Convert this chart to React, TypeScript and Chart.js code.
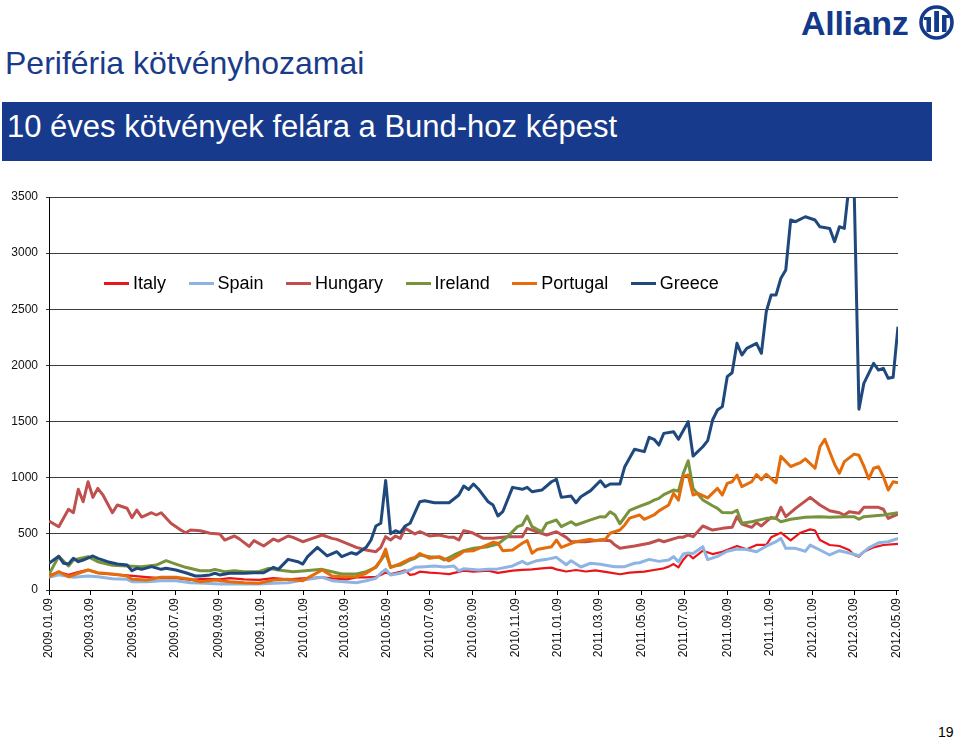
import React, { useEffect, useRef } from "react";
import { Chart, registerables } from "chart.js";

Chart.register(...registerables);

// Tick labels on the date axis (every two months)
const tickLabels = [
  "2009.01.09", "2009.03.09", "2009.05.09", "2009.07.09", "2009.09.09", "2009.11.09",
  "2010.01.09", "2010.03.09", "2010.05.09", "2010.07.09", "2010.09.09", "2010.11.09",
  "2011.01.09", "2011.03.09", "2011.05.09", "2011.07.09", "2011.09.09", "2011.11.09",
  "2012.01.09", "2012.03.09", "2012.05.09",
];

// Series: [week since 2009.01.09, spread in bp]
const italy: [number, number][] = [
  [0,130],[2,160],[4,135],[6,160],[8,180],[10,150],[13,140],[16,130],[20,115],[23,105],[26,105],[29,90],[32,100],[35,95],[37,105],[40,95],[43,90],[46,105],[49,95],[52,104],[56,113],[58,104],[61,95],[63,113],[65,113],[67,118],[68,134],[69,155],[70,142],[72,163],[73,175],[74,134],[75,142],[76,163],[78,154],[80,149],[82,142],[85,172],[87,163],[90,172],[92,152],[95,172],[97,180],[99,184],[101,193],[103,199],[104,184],[106,165],[108,178],[110,165],[112,175],[115,154],[117,140],[119,154],[122,163],[124,178],[126,193],[127,208],[128,231],[129,202],[130,270],[131,321],[132,282],[134,350],[136,320],[138,341],[141,392],[143,362],[145,401],[147,401],[148,469],[150,510],[152,442],[154,510],[156,540],[157,530],[158,445],[160,401],[162,392],[164,356],[165,312],[166,297],[167,341],[169,380],[171,401],[174,410],
];
const spain: [number, number][] = [
  [0,112],[2,135],[5,113],[8,125],[10,118],[13,100],[16,95],[17,74],[20,74],[23,83],[26,83],[29,65],[32,60],[35,53],[39,53],[43,53],[46,60],[49,65],[52,89],[56,113],[58,83],[63,65],[65,83],[67,104],[68,149],[69,184],[70,134],[72,149],[74,178],[75,202],[77,208],[79,214],[81,205],[83,214],[84,170],[85,190],[88,178],[90,184],[92,188],[95,214],[97,255],[98,231],[100,261],[102,273],[104,291],[106,225],[107,261],[109,205],[111,238],[113,230],[115,214],[116,208],[118,208],[120,238],[121,243],[123,273],[125,255],[127,267],[128,297],[129,252],[130,320],[131,330],[132,325],[134,386],[135,270],[137,300],[139,345],[141,365],[143,360],[145,340],[147,390],[149,430],[150,460],[151,371],[153,371],[155,345],[156,400],[158,356],[160,312],[162,350],[164,330],[166,305],[168,375],[170,420],[172,430],[174,460],
];
const hungary: [number, number][] = [
  [0,615],[2,564],[4,719],[5,688],[6,897],[7,786],[8,964],[9,825],[10,905],[11,850],[13,688],[14,757],[16,728],[17,645],[18,712],[19,650],[21,688],[22,668],[23,688],[25,594],[27,534],[28,510],[29,534],[31,528],[33,505],[35,499],[36,445],[38,481],[39,455],[41,388],[42,440],[44,392],[46,454],[47,436],[49,481],[50,469],[52,430],[54,460],[56,490],[58,460],[59,451],[61,416],[63,380],[65,356],[67,341],[68,380],[69,475],[70,445],[71,481],[72,460],[73,549],[75,499],[76,519],[78,481],[80,490],[82,469],[83,469],[84,445],[85,528],[86,519],[87,505],[89,460],[91,460],[94,475],[97,475],[98,549],[100,519],[102,490],[104,519],[106,469],[107,430],[110,430],[113,445],[115,439],[116,400],[117,371],[120,392],[123,416],[125,445],[126,430],[129,469],[130,470],[131,490],[132,475],[134,570],[136,534],[138,549],[140,558],[141,653],[142,588],[144,558],[145,599],[146,570],[148,647],[149,638],[150,736],[151,653],[153,727],[156,825],[158,757],[160,706],[162,688],[163,668],[164,697],[166,683],[167,736],[170,736],[171,719],[172,638],[174,677],
];
const ireland: [number, number][] = [
  [0,140],[2,300],[4,214],[5,267],[8,297],[10,252],[13,220],[16,214],[19,208],[22,222],[24,261],[26,231],[28,202],[31,172],[33,172],[34,184],[36,163],[38,172],[40,163],[43,163],[45,193],[47,178],[50,163],[52,169],[56,184],[58,163],[60,142],[63,142],[65,163],[67,202],[69,327],[70,208],[72,222],[74,267],[75,282],[76,312],[78,297],[80,291],[81,267],[83,312],[85,350],[86,362],[87,371],[90,386],[92,410],[94,475],[96,564],[97,579],[98,659],[99,564],[101,519],[102,594],[104,623],[105,564],[107,608],[108,579],[111,625],[113,653],[114,650],[115,697],[116,668],[117,590],[119,710],[121,745],[123,777],[124,800],[125,816],[126,850],[128,890],[129,880],[130,1039],[131,1151],[132,905],[134,801],[136,750],[137,727],[138,690],[140,688],[141,710],[142,594],[144,608],[147,638],[149,638],[150,608],[152,630],[155,647],[158,653],[160,647],[163,653],[165,653],[166,630],[167,653],[171,668],[174,688],
];
const portugal: [number, number][] = [
  [0,118],[2,163],[4,118],[6,149],[8,178],[10,154],[13,142],[16,125],[17,95],[20,89],[23,113],[26,113],[29,95],[31,74],[34,89],[37,74],[40,65],[43,60],[46,89],[49,95],[52,83],[56,178],[58,125],[60,118],[63,118],[65,149],[67,208],[68,267],[69,365],[70,200],[72,235],[74,278],[75,291],[76,325],[78,282],[80,297],[82,260],[84,312],[85,345],[87,350],[89,386],[91,425],[92,416],[93,350],[95,356],[97,416],[98,440],[99,327],[100,360],[103,386],[104,445],[105,380],[108,430],[110,445],[111,451],[112,439],[114,451],[115,505],[117,534],[118,579],[119,640],[121,668],[122,630],[124,668],[125,705],[127,757],[128,861],[129,800],[130,1009],[131,1024],[132,846],[133,861],[135,820],[137,905],[138,846],[139,950],[140,964],[141,1024],[142,920],[144,964],[145,1028],[146,983],[147,1030],[149,955],[150,1190],[152,1100],[154,1134],[155,1168],[157,1084],[158,1276],[159,1342],[161,1120],[162,1040],[163,1143],[165,1210],[166,1200],[167,1104],[168,990],[169,1084],[170,1098],[171,1009],[172,890],[173,964],[174,955],
];
const greece: [number, number][] = [
  [0,238],[2,300],[3,238],[4,231],[5,282],[6,252],[7,267],[9,303],[10,282],[12,252],[14,231],[16,222],[17,172],[18,193],[19,184],[21,208],[23,184],[24,193],[26,178],[28,154],[30,125],[31,125],[33,134],[34,149],[35,134],[37,149],[40,149],[42,154],[44,154],[46,202],[47,184],[49,273],[51,252],[52,231],[53,297],[55,380],[57,303],[59,341],[60,297],[62,332],[63,318],[65,380],[66,445],[67,570],[68,594],[69,975],[70,500],[71,528],[72,510],[73,570],[74,594],[76,786],[77,795],[79,777],[82,777],[84,846],[85,926],[86,895],[87,944],[88,900],[90,786],[91,757],[92,659],[93,697],[95,914],[97,897],[98,914],[99,875],[101,890],[103,964],[104,985],[105,825],[107,837],[108,777],[109,831],[111,885],[113,973],[114,920],[115,944],[117,944],[118,1098],[120,1253],[122,1232],[123,1360],[124,1342],[125,1291],[126,1395],[128,1410],[129,1342],[131,1499],[132,1193],[134,1276],[135,1330],[136,1514],[137,1603],[138,1633],[139,1900],[140,1935],[141,2197],[142,2093],[143,2152],[145,2197],[146,2108],[147,2478],[148,2627],[149,2627],[150,2776],[151,2850],[152,3295],[153,3280],[155,3324],[157,3295],[158,3235],[160,3220],[161,3102],[162,3235],[163,3220],[164,3620],[165,3600],[166,1610],[167,1840],[169,2019],[170,1959],[171,1974],[172,1885],[173,1894],[174,2345],
];

const seriesNames = ["Italy", "Spain", "Hungary", "Ireland", "Portugal", "Greece"];
const seriesColors = ["#E8161B", "#8DB4E2", "#C0504D", "#77933C", "#E46C0A", "#1F497D"];
const seriesData = [italy, spain, hungary, ireland, portugal, greece];

const FONT = "'Liberation Sans', Arial, Helvetica, sans-serif";

function labelToWeek(label: string): number {
  const [y, m, d] = label.split(".").map(Number);
  return (Date.UTC(y, m - 1, d) - Date.UTC(2009, 0, 9)) / 86400000 / 7;
}

export default function App() {
  const ref = useRef<HTMLCanvasElement>(null);

  useEffect(() => {
    const tickWeeks = tickLabels.map(labelToWeek);
    const datasets = seriesData.map((data, i) => ({
      label: seriesNames[i],
      data: data.map(([x, y]) => ({ x, y })),
      borderColor: seriesColors[i],
      backgroundColor: seriesColors[i],
      borderWidth: i === 0 ? 2.2 : 3,
      pointRadius: 0,
      tension: 0,
      fill: false,
      borderJoinStyle: "round" as const,
      order: seriesNames.length - i,
    }));
    const chart = new Chart(ref.current!, {
      type: "line",
      data: { datasets },
      options: {
        animation: false,
        responsive: false,
        events: [],
        layout: { padding: { left: 0, top: 17, right: 62, bottom: 0 }, autoPadding: false },
        plugins: { legend: { display: false }, tooltip: { enabled: false } },
        scales: {
          x: {
            type: "linear",
            min: 0,
            max: 174,
            afterBuildTicks: (s: any) => {
              s.ticks = tickWeeks.map((v) => ({ value: v }));
            },
            afterFit: (s: any) => {
              s.height = 90;
            },
            ticks: {
              autoSkip: false,
              minRotation: 90,
              maxRotation: 90,
              padding: 3,
              color: "#111",
              font: { family: FONT, size: 12 },
              callback: (v: any) => {
                const i = tickWeeks.findIndex((t) => Math.abs(t - Number(v)) < 1e-6);
                return i >= 0 ? tickLabels[i] : "";
              },
            },
            grid: { drawOnChartArea: false, drawTicks: true, tickLength: 5, color: "#000" },
            border: { color: "#000", width: 1 },
          },
          y: {
            min: 0,
            max: 3500,
            afterFit: (s: any) => {
              s.width = 49;
            },
            ticks: {
              stepSize: 500,
              padding: 8,
              color: "#111",
              font: { family: FONT, size: 12 },
              callback: (v: any) => String(v),
            },
            grid: { color: "#3c3c3c", lineWidth: 1, tickLength: 3 },
            border: { color: "#000", width: 1 },
          },
        },
      },
    });
    return () => chart.destroy();
  }, []);

  const blue = "#1A3B8A";

  return (
    <div
      style={{
        position: "absolute",
        left: 0,
        top: 0,
        width: 960,
        height: 738,
        overflow: "hidden",
        background: "#fff",
        fontFamily: FONT,
      }}
    >
      {/* Allianz logo */}
      <div
        style={{
          position: "absolute",
          left: 801,
          top: 6,
          fontSize: 34,
          lineHeight: "34px",
          fontWeight: 700,
          color: "#12398A",
          letterSpacing: -0.3,
        }}
      >
        Allianz
      </div>
      <svg style={{ position: "absolute", left: 0, top: 0 }} width={960} height={60}>
        <circle cx={936.5} cy={22.5} r={15.5} fill="none" stroke="#12398A" strokeWidth={3.6} />
        <rect x={926.5} y={17} width={4.5} height={15} fill="#12398A" />
        <rect x={924} y={17} width={7} height={3} fill="#12398A" />
        <rect x={934.2} y={11} width={4.8} height={21} fill="#12398A" />
        <rect x={942} y={15} width={4.5} height={17} fill="#12398A" />
        <rect x={942} y={15} width={7} height={3} fill="#12398A" />
      </svg>

      {/* Title */}
      <div
        style={{
          position: "absolute",
          left: 5,
          top: 47,
          fontSize: 32,
          lineHeight: "32px",
          color: blue,
          whiteSpace: "nowrap",
        }}
      >
        Periféria kötvényhozamai
      </div>

      {/* Banner */}
      <div
        style={{
          position: "absolute",
          left: 2,
          top: 102,
          width: 930,
          height: 59,
          background: "#183A8C",
        }}
      />
      <div
        style={{
          position: "absolute",
          left: 7,
          top: 111,
          fontSize: 31,
          lineHeight: "31px",
          color: "#fff",
          whiteSpace: "nowrap",
        }}
      >
        10 éves kötvények felára a Bund-hoz képest
      </div>

      {/* Chart */}
      <canvas
        ref={ref}
        width={960}
        height={500}
        style={{ position: "absolute", left: 0, top: 180, width: 960, height: 500 }}
      />

      {/* Legend */}
      <div
        style={{
          position: "absolute",
          left: 104,
          top: 272,
          height: 22,
          display: "flex",
          alignItems: "center",
        }}
      >
        {seriesNames.map((n, i) => (
          <div key={n} style={{ display: "flex", alignItems: "center", marginRight: 22.5 }}>
            <div style={{ width: 25, height: 3, background: seriesColors[i], marginRight: 4 }} />
            <div style={{ fontSize: 18, lineHeight: "22px", color: "#000", whiteSpace: "nowrap" }}>{n}</div>
          </div>
        ))}
      </div>

      {/* Page number */}
      <div style={{ position: "absolute", left: 938, top: 725, fontSize: 14, lineHeight: "14px", color: "#000" }}>
        19
      </div>
    </div>
  );
}
